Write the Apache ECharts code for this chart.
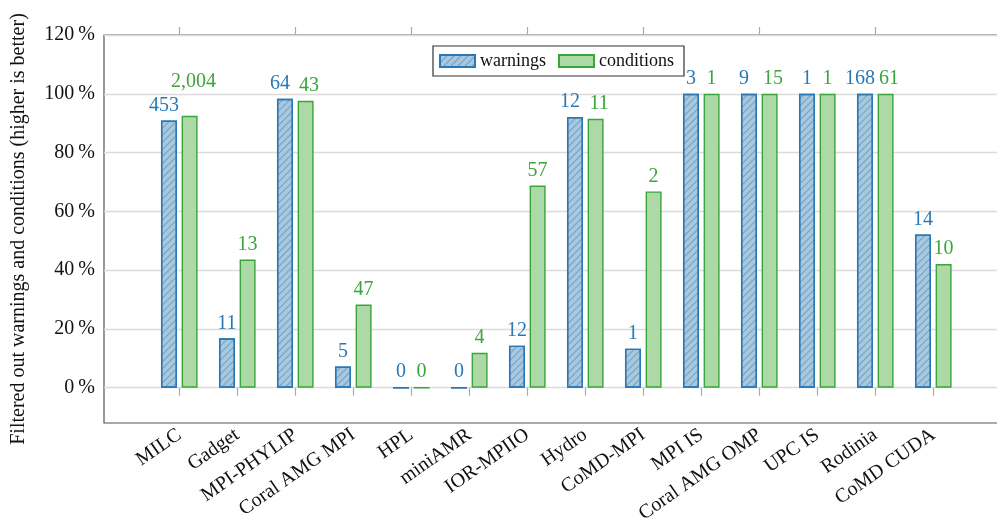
<!DOCTYPE html>
<html>
<head>
<meta charset="utf-8">
<script src="https://cdn.jsdelivr.net/npm/echarts@6/dist/echarts.min.js"></script>
<style>
html,body{margin:0;padding:0;background:#fff;}
#c{width:997px;height:527px;}
</style>
</head>
<body>
<div id="c"></div>
<script>
const categories = ['MILC','Gadget','MPI-PHYLIP','Coral AMG MPI','HPL','miniAMR','IOR-MPIIO','Hydro','CoMD-MPI','MPI IS','Coral AMG OMP','UPC IS','Rodinia','CoMD CUDA'];
const warningsPct = [90.9, 16.8, 98.3, 7.2, 0, 0, 14.3, 92.1, 13.3, 100, 100, 100, 100, 52.1];
const conditionsPct = [92.5, 43.6, 97.6, 28.3, 0, 11.9, 68.8, 91.5, 66.8, 100, 100, 100, 100, 42.1];
const warningsCount = ['453','11','64','5','0','0','12','12','1','3','9','1','168','14'];
const conditionsCount = ['2,004','13','43','47','0','4','57','11','2','1','15','1','61','10'];
const yTicks = [0, 20, 40, 60, 80, 100, 120];

const FONT = 'Liberation Serif';
const BLUE = '#2a78b5', GREEN = '#3aa53a';

function near(i){ return Math.abs(warningsPct[i]-conditionsPct[i]) < 3 && (warningsCount[i].length + conditionsCount[i].length) > 2; }

const wData = warningsPct.map((v,i)=>({
  value: v,
  label: { formatter: warningsCount[i], offset: [near(i) ? -5 : 0, 0] }
}));
const cData = conditionsPct.map((v,i)=>({
  value: v,
  label: { formatter: conditionsCount[i], offset: [near(i) ? (conditionsCount[i].length > 3 ? 4 : 3.5) : 0, (near(i) && conditionsCount[i].length > 3) ? -19 : 0] }
}));

const chart = echarts.init(document.getElementById('c'), null, {renderer:'canvas'});
chart.setOption({
  animation: false,
  textStyle: { fontFamily: FONT },
  legend: {
    left: 433, top: 46,
    data: ['warnings','conditions'],
    icon: 'rect',
    itemWidth: 35, itemHeight: 12, itemGap: 12,
    padding: [6, 10, 6, 6],
    borderColor: '#333', borderWidth: 1.2,
    textStyle: { fontSize: 18, fontFamily: FONT, color: '#111' }
  },
  grid: [
    { left: 150.3, top: 35, width: 812, height: 388, outerBoundsMode: 'none', containLabel: false },
    { left: 104, top: 35, width: 930, height: 388, outerBoundsMode: 'none', containLabel: false, show: true, borderColor: '#555', borderWidth: 1.2, backgroundColor: 'transparent' }
  ],
  xAxis: [
    { type: 'category', gridIndex: 0, data: categories, position: 'bottom',
      axisLine: { show: false },
      axisTick: { show: true, alignWithLabel: true, length: 8, lineStyle: { color: '#aaa', width: 1.2 } },
      axisLabel: { rotate: 35, margin: 10, fontSize: 20, fontFamily: FONT, color: '#111', interval: 0 } },
    { type: 'category', gridIndex: 0, data: categories, position: 'top',
      axisLine: { show: false },
      axisTick: { show: true, alignWithLabel: true, length: 8, lineStyle: { color: '#aaa', width: 1.2 } },
      axisLabel: { show: false } },
    { type: 'value', gridIndex: 1, show: false, min: 0, max: 1 }
  ],
  yAxis: [
    { type: 'value', gridIndex: 0, min: -12, max: 120, show: false, splitLine: { show: false } },
    { type: 'value', gridIndex: 1, min: -12, max: 120,
      name: 'Filtered out warnings and conditions (higher is better)',
      nameLocation: 'middle', nameGap: 75,
      nameTextStyle: { fontSize: 20, fontFamily: FONT, color: '#111' },
      axisLine: { show: false },
      axisTick: { show: false, customValues: yTicks },
      axisLabel: { customValues: yTicks, margin: 9, fontSize: 20, fontFamily: FONT, color: '#111',
        formatter: v => v + '\u2009%' },
      splitLine: { show: true, lineStyle: { color: '#dcdcdc', width: 1.3 } } }
  ],
  series: [
    { name: 'warnings', type: 'bar', xAxisIndex: 0, yAxisIndex: 0, data: wData,
      barWidth: 16, barGap: '29%',
      itemStyle: { color: '#a6c9e2', borderColor: BLUE, borderWidth: 1.4,
        decal: { symbol: 'rect', symbolSize: 1, dashArrayX: [1, 0], dashArrayY: [1, 3.5], rotation: -Math.PI/4, color: 'rgba(70,100,130,0.45)' } },
      label: { show: true, position: 'top', distance: 5, fontSize: 20, fontFamily: FONT, color: BLUE } },
    { name: 'conditions', type: 'bar', xAxisIndex: 0, yAxisIndex: 0, data: cData,
      barWidth: 16, barGap: '29%',
      itemStyle: { color: '#acd9a6', borderColor: GREEN, borderWidth: 1.4 },
      label: { show: true, position: 'top', distance: 5, fontSize: 20, fontFamily: FONT, color: GREEN } }
  ]
});
</script>
</body>
</html>
